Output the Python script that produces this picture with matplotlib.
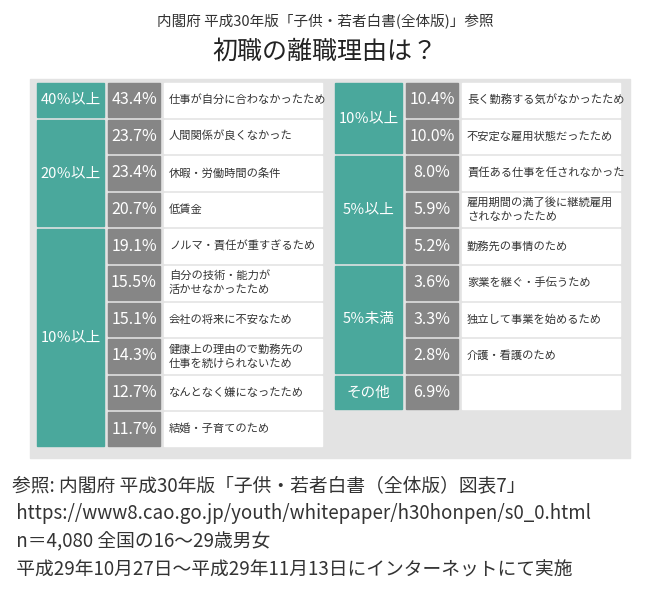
import matplotlib
matplotlib.use("Agg")
import matplotlib.pyplot as plt
from matplotlib.patches import Rectangle

plt.rcParams["font.family"] = "Noto Sans CJK JP"

TEAL = "#4aa89c"
GRAY = "#868686"
BG = "#e3e3e3"
TEXT = "#333333"

# left column
left_pct = [43.4, 23.7, 23.4, 20.7, 19.1, 15.5, 15.1, 14.3, 12.7, 11.7]
left_labels = [
    "仕事が自分に合わなかったため", "人間関係が良くなかった", "休暇・労働時間の条件",
    "低賃金", "ノルマ・責任が重すぎるため", "自分の技術・能力が\n活かせなかったため",
    "会社の将来に不安なため", "健康上の理由ので勤務先の\n仕事を続けられないため",
    "なんとなく嫌になったため", "結婚・子育てのため",
]
left_groups = [("40％以上", 0, 1), ("20％以上", 1, 3), ("10％以上", 4, 6)]

# right column
right_pct = [10.4, 10.0, 8.0, 5.9, 5.2, 3.6, 3.3, 2.8, 6.9]
right_labels = [
    "長く勤務する気がなかったため", "不安定な雇用状態だったため", "責任ある仕事を任されなかった",
    "雇用期間の満了後に継続雇用\nされなかったため", "勤務先の事情のため", "家業を継ぐ・手伝うため",
    "独立して事業を始めるため", "介護・看護のため", "",
]
right_groups = [("10％以上", 0, 2), ("5％以上", 2, 3), ("5％未満", 5, 3), ("その他", 8, 1)]

notes = [
    "参照: 内閣府 平成30年版「子供・若者白書（全体版）図表7」",
    " https://www8.cao.go.jp/youth/whitepaper/h30honpen/s0_0.html",
    " n＝4,080 全国の16～29歳男女",
    " 平成29年10月27日～平成29年11月13日にインターネットにて実施",
]

fig = plt.figure(figsize=(6.5, 5.89), dpi=100)
ax = fig.add_axes([0, 0, 1, 1])
ax.set_xlim(0, 650)
ax.set_ylim(589, 0)
ax.axis("off")

ax.text(325, 22, "内閣府 平成30年版「子供・若者白書(全体版)」参照", ha="center", va="center",
        fontsize=10.5, color=TEXT)
ax.text(325, 52, "初職の離職理由は？", ha="center", va="center", fontsize=18, color="#222222")

ax.add_patch(Rectangle((30, 79), 600, 379, color=BG, zorder=0))

Y0, PITCH, H = 83, 36.6, 33.5


def draw_column(x0, pct, labels, groups):
    cat_w, gap, pct_w, lab_w = 67, 4, 52, 158
    for i, (p, lab) in enumerate(zip(pct, labels)):
        y = Y0 + i * PITCH
        xp = x0 + cat_w + gap
        ax.add_patch(Rectangle((xp, y), pct_w, H, color=GRAY))
        ax.text(xp + pct_w / 2, y + H / 2, f"{p:.1f}%", ha="center", va="center",
                fontsize=11.5, color="white")
        xl = xp + pct_w + gap
        ax.add_patch(Rectangle((xl, y), lab_w, H, color="white"))
        ax.text(xl + 5, y + H / 2, lab, ha="left", va="center", fontsize=8.1,
                color=TEXT, linespacing=1.45)
    for name, start, n in groups:
        y = Y0 + start * PITCH
        h = (n - 1) * PITCH + H
        ax.add_patch(Rectangle((x0, y), cat_w, h, color=TEAL))
        ax.text(x0 + cat_w / 2, y + h / 2, name, ha="center", va="center",
                fontsize=10.5, color="white")


draw_column(37, left_pct, left_labels, left_groups)
draw_column(335, right_pct, right_labels, right_groups)

for i, line in enumerate(notes):
    ax.text(12, 486 + i * 28, line, ha="left", va="center", fontsize=13.5, color=TEXT)

fig.savefig("out.png", dpi=100)
